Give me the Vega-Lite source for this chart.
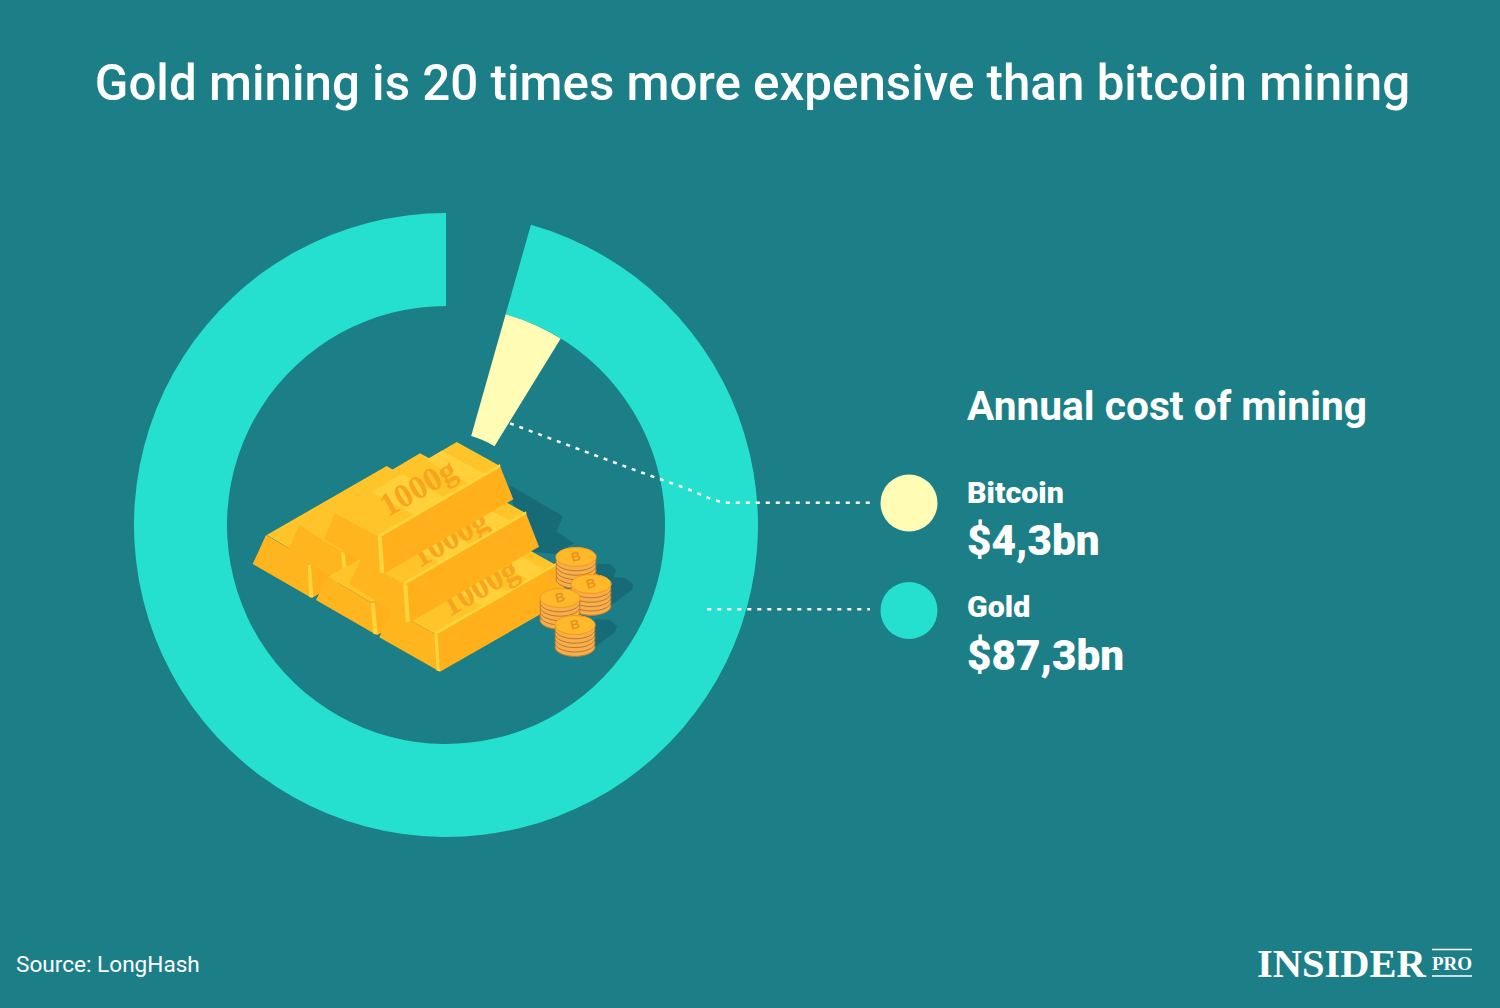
{
  "$schema": "https://vega.github.io/schema/vega-lite/v6.json",
  "description": "Annual cost of gold mining vs bitcoin mining",
  "width": 1500,
  "height": 1008,
  "autosize": {"type": "fit", "contains": "padding"},
  "padding": 0,
  "background": "#1c7f87",
  "config": {"view": {"stroke": null}, "text": {"font": "Roboto", "color": "white", "align": "left", "baseline": "alphabetic"}},
  "encoding": {
    "x": {"field": "x", "type": "quantitative", "axis": null, "scale": {"domain": [0, 1500], "nice": false, "zero": false}},
    "y": {"field": "y", "type": "quantitative", "axis": null, "scale": {"domain": [1008, 0], "nice": false, "zero": false}}
  },
  "datasets": {
    "shadows": [
      {"poly":"s1","part":"shadow","i":0,"x":509.3,"y":485},{"poly":"s1","part":"shadow","i":1,"x":562.7,"y":516},{"poly":"s1","part":"shadow","i":2,"x":556.7,"y":531.7},{"poly":"s1","part":"shadow","i":3,"x":574.3,"y":543.3},{"poly":"s1","part":"shadow","i":4,"x":556,"y":554},{"poly":"s1","part":"shadow","i":5,"x":533,"y":551.7},{"poly":"s1","part":"shadow","i":6,"x":513,"y":504},
      {"poly":"s2","part":"shadow","i":0,"x":595,"y":564},{"poly":"s2","part":"shadow","i":1,"x":610,"y":564},{"poly":"s2","part":"shadow","i":2,"x":616,"y":570},{"poly":"s2","part":"shadow","i":3,"x":613,"y":578},{"poly":"s2","part":"shadow","i":4,"x":600,"y":585},
      {"poly":"s3","part":"shadow","i":0,"x":611,"y":577},{"poly":"s3","part":"shadow","i":1,"x":625,"y":578},{"poly":"s3","part":"shadow","i":2,"x":633,"y":584},{"poly":"s3","part":"shadow","i":3,"x":632,"y":590},{"poly":"s3","part":"shadow","i":4,"x":610,"y":606},
      {"poly":"s4","part":"shadow","i":0,"x":595,"y":619},{"poly":"s4","part":"shadow","i":1,"x":610,"y":620},{"poly":"s4","part":"shadow","i":2,"x":617,"y":626},{"poly":"s4","part":"shadow","i":3,"x":615,"y":632},{"poly":"s4","part":"shadow","i":4,"x":595,"y":647}
    ],
    "barsBack": [
      {"poly":"A-top","part":"top","i":0,"x":266.7,"y":535},{"poly":"A-top","part":"top","i":1,"x":386.7,"y":466},{"poly":"A-top","part":"top","i":2,"x":430,"y":491.7},{"poly":"A-top","part":"top","i":3,"x":308.3,"y":560},
      {"poly":"A-left","part":"left","i":0,"x":266,"y":535},{"poly":"A-left","part":"left","i":1,"x":252.7,"y":564},{"poly":"A-left","part":"left","i":2,"x":311.7,"y":598},{"poly":"A-left","part":"left","i":3,"x":308.3,"y":560},
      {"poly":"A-right","part":"right","i":0,"x":308.3,"y":560},{"poly":"A-right","part":"right","i":1,"x":430,"y":491.7},{"poly":"A-right","part":"right","i":2,"x":440,"y":526.7},{"poly":"A-right","part":"right","i":3,"x":311.7,"y":598},
      {"poly":"A-edge","part":"edge","i":0,"x":307.7,"y":565},{"poly":"A-edge","part":"edge","i":1,"x":311,"y":564.3},{"poly":"A-edge","part":"edge","i":2,"x":313.3,"y":597.3},{"poly":"A-edge","part":"edge","i":3,"x":309.3,"y":597.3},
      {"poly":"B-top","part":"top","i":0,"x":299.3,"y":525},{"poly":"B-top","part":"top","i":1,"x":420,"y":453.3},{"poly":"B-top","part":"top","i":2,"x":456.7,"y":473.3},{"poly":"B-top","part":"top","i":3,"x":341.7,"y":551.7},
      {"poly":"B-left","part":"left","i":0,"x":299.3,"y":525},{"poly":"B-left","part":"left","i":1,"x":287.3,"y":551.7},{"poly":"B-left","part":"left","i":2,"x":346.7,"y":585},{"poly":"B-left","part":"left","i":3,"x":341.7,"y":551.7},
      {"poly":"B-right","part":"right","i":0,"x":341.7,"y":551.7},{"poly":"B-right","part":"right","i":1,"x":456.7,"y":473.3},{"poly":"B-right","part":"right","i":2,"x":480,"y":520},{"poly":"B-right","part":"right","i":3,"x":346.7,"y":585},
      {"poly":"B-edge","part":"edge","i":0,"x":341,"y":551.7},{"poly":"B-edge","part":"edge","i":1,"x":344.7,"y":552.7},{"poly":"B-edge","part":"edge","i":2,"x":348.3,"y":585},{"poly":"B-edge","part":"edge","i":3,"x":344,"y":585},
      {"poly":"D-top","part":"top","i":0,"x":327.3,"y":576.7},{"poly":"D-top","part":"top","i":1,"x":450,"y":510},{"poly":"D-top","part":"top","i":2,"x":500,"y":540},{"poly":"D-top","part":"top","i":3,"x":371.7,"y":602.7},
      {"poly":"D-left","part":"left","i":0,"x":327.3,"y":576.7},{"poly":"D-left","part":"left","i":1,"x":316,"y":600},{"poly":"D-left","part":"left","i":2,"x":376.7,"y":635},{"poly":"D-left","part":"left","i":3,"x":371.7,"y":602.7},
      {"poly":"D-right","part":"right","i":0,"x":371.7,"y":602.7},{"poly":"D-right","part":"right","i":1,"x":440,"y":565},{"poly":"D-right","part":"right","i":2,"x":460,"y":600},{"poly":"D-right","part":"right","i":3,"x":376.7,"y":635},
      {"poly":"D-edge","part":"edge","i":0,"x":371,"y":602.7},{"poly":"D-edge","part":"edge","i":1,"x":374.7,"y":603.3},{"poly":"D-edge","part":"edge","i":2,"x":377.7,"y":634.3},{"poly":"D-edge","part":"edge","i":3,"x":373.3,"y":634},
      {"poly":"E-top","part":"top","i":0,"x":391.7,"y":610},{"poly":"E-top","part":"top","i":1,"x":512.7,"y":541},{"poly":"E-top","part":"top","i":2,"x":556,"y":565},{"poly":"E-top","part":"top","i":3,"x":435,"y":634},
      {"poly":"E-s1","part":"stripe","i":0,"x":440,"y":582},{"poly":"E-s1","part":"stripe","i":1,"x":464.3,"y":568.6},{"poly":"E-s1","part":"stripe","i":2,"x":507.6,"y":592.6},{"poly":"E-s1","part":"stripe","i":3,"x":483.4,"y":606.4},
      {"poly":"E-s2","part":"stripe","i":0,"x":486,"y":556},{"poly":"E-s2","part":"stripe","i":1,"x":503,"y":546.5},{"poly":"E-s2","part":"stripe","i":2,"x":546.3,"y":570.5},{"poly":"E-s2","part":"stripe","i":3,"x":529.4,"y":580},
      {"poly":"E-left","part":"left","i":0,"x":391.7,"y":610},{"poly":"E-left","part":"left","i":1,"x":379.3,"y":637.3},{"poly":"E-left","part":"left","i":2,"x":440,"y":671.7},{"poly":"E-left","part":"left","i":3,"x":435,"y":634},
      {"poly":"E-right","part":"right","i":0,"x":435,"y":634},{"poly":"E-right","part":"right","i":1,"x":556,"y":565},{"poly":"E-right","part":"right","i":2,"x":568.3,"y":598.3},{"poly":"E-right","part":"right","i":3,"x":440,"y":671.7},
      {"poly":"E-rim","part":"edge","i":0,"x":435,"y":632},{"poly":"E-rim","part":"edge","i":1,"x":556,"y":563},{"poly":"E-rim","part":"edge","i":2,"x":556.5,"y":565.5},{"poly":"E-rim","part":"edge","i":3,"x":435.5,"y":635},
      {"poly":"E-edge","part":"edge","i":0,"x":434.3,"y":634},{"poly":"E-edge","part":"edge","i":1,"x":437.7,"y":634.7},{"poly":"E-edge","part":"edge","i":2,"x":440,"y":671.3},{"poly":"E-edge","part":"edge","i":3,"x":436.7,"y":670.7}
    ],
    "barsMid": [
      {"poly":"F-top","part":"top","i":0,"x":360.7,"y":560},{"poly":"F-top","part":"top","i":1,"x":482.7,"y":489.3},{"poly":"F-top","part":"top","i":2,"x":526,"y":513.3},{"poly":"F-top","part":"top","i":3,"x":404,"y":584},
      {"poly":"F-s1","part":"stripe","i":0,"x":397.3,"y":538.8},{"poly":"F-s1","part":"stripe","i":1,"x":427.8,"y":521},{"poly":"F-s1","part":"stripe","i":2,"x":471,"y":545},{"poly":"F-s1","part":"stripe","i":3,"x":440.6,"y":562.8},
      {"poly":"F-s2","part":"stripe","i":0,"x":448.5,"y":509},{"poly":"F-s2","part":"stripe","i":1,"x":468,"y":497.8},{"poly":"F-s2","part":"stripe","i":2,"x":511.4,"y":521.8},{"poly":"F-s2","part":"stripe","i":3,"x":491.8,"y":533}
    ],
    "barsMidSides": [
      {"poly":"F-left","part":"left","i":0,"x":360.7,"y":560},{"poly":"F-left","part":"left","i":1,"x":349.3,"y":584},{"poly":"F-left","part":"left","i":2,"x":410,"y":622.3},{"poly":"F-left","part":"left","i":3,"x":404,"y":584},
      {"poly":"F-right","part":"right","i":0,"x":404,"y":584},{"poly":"F-right","part":"right","i":1,"x":526,"y":513.3},{"poly":"F-right","part":"right","i":2,"x":539,"y":546.7},{"poly":"F-right","part":"right","i":3,"x":410,"y":622.3},
      {"poly":"F-rim","part":"edge","i":0,"x":404,"y":582},{"poly":"F-rim","part":"edge","i":1,"x":526,"y":511.3},{"poly":"F-rim","part":"edge","i":2,"x":526.5,"y":514},{"poly":"F-rim","part":"edge","i":3,"x":404.5,"y":585},
      {"poly":"F-edge","part":"edge","i":0,"x":403.3,"y":584},{"poly":"F-edge","part":"edge","i":1,"x":407.3,"y":584.7},{"poly":"F-edge","part":"edge","i":2,"x":410,"y":621.7},{"poly":"F-edge","part":"edge","i":3,"x":405.7,"y":621.7}
    ],
    "barsTop": [
      {"poly":"C-top","part":"top","i":0,"x":456.7,"y":442},{"poly":"C-top","part":"top","i":1,"x":500,"y":466},{"poly":"C-top","part":"top","i":2,"x":378.3,"y":536.7},{"poly":"C-top","part":"top","i":3,"x":335,"y":513.3},
      {"poly":"C-s1","part":"stripe","i":0,"x":371.5,"y":492},{"poly":"C-s1","part":"stripe","i":1,"x":402,"y":474},{"poly":"C-s1","part":"stripe","i":2,"x":445.3,"y":497.7},{"poly":"C-s1","part":"stripe","i":3,"x":414.8,"y":515.3},
      {"poly":"C-s2","part":"stripe","i":0,"x":426.3,"y":460},{"poly":"C-s2","part":"stripe","i":1,"x":442,"y":450.7},{"poly":"C-s2","part":"stripe","i":2,"x":485.3,"y":474.3},{"poly":"C-s2","part":"stripe","i":3,"x":469.7,"y":483.7},
      {"poly":"C-left","part":"left","i":0,"x":335,"y":513.3},{"poly":"C-left","part":"left","i":1,"x":324,"y":539.3},{"poly":"C-left","part":"left","i":2,"x":383.3,"y":574},{"poly":"C-left","part":"left","i":3,"x":378.3,"y":536.7},
      {"poly":"C-right","part":"right","i":0,"x":378.3,"y":536.7},{"poly":"C-right","part":"right","i":1,"x":500,"y":466},{"poly":"C-right","part":"right","i":2,"x":513.3,"y":499.3},{"poly":"C-right","part":"right","i":3,"x":383.3,"y":574},
      {"poly":"C-rim","part":"edge","i":0,"x":378.3,"y":534.7},{"poly":"C-rim","part":"edge","i":1,"x":500,"y":464},{"poly":"C-rim","part":"edge","i":2,"x":500.5,"y":467},{"poly":"C-rim","part":"edge","i":3,"x":379,"y":538},
      {"poly":"C-edge","part":"edge","i":0,"x":377.7,"y":536.7},{"poly":"C-edge","part":"edge","i":1,"x":381.7,"y":537.3},{"poly":"C-edge","part":"edge","i":2,"x":384.3,"y":573.3},{"poly":"C-edge","part":"edge","i":3,"x":380,"y":572.7}
    ],
    "coins": [
      {"kind":"rim","x":576,"y":579},{"kind":"rim","x":576,"y":574.6},{"kind":"rim","x":576,"y":570.2},{"kind":"rim","x":576,"y":565.8},{"kind":"rim","x":576,"y":561.4},{"kind":"coin","x":576,"y":557},{"kind":"inner","x":576,"y":557},
      {"kind":"rim","x":591,"y":606},{"kind":"rim","x":591,"y":601.6},{"kind":"rim","x":591,"y":597.2},{"kind":"rim","x":591,"y":592.8},{"kind":"rim","x":591,"y":588.4},{"kind":"coin","x":591,"y":584},{"kind":"inner","x":591,"y":584},
      {"kind":"rim","x":560,"y":620},{"kind":"rim","x":560,"y":615.6},{"kind":"rim","x":560,"y":611.2},{"kind":"rim","x":560,"y":606.8},{"kind":"rim","x":560,"y":602.4},{"kind":"coin","x":560,"y":598},{"kind":"inner","x":560,"y":598},
      {"kind":"rim","x":575,"y":647},{"kind":"rim","x":575,"y":642.6},{"kind":"rim","x":575,"y":638.2},{"kind":"rim","x":575,"y":633.8},{"kind":"rim","x":575,"y":629.4},{"kind":"coin","x":575,"y":625},{"kind":"inner","x":575,"y":625}
    ]
  },
  "layer": [
    {
      "data": {"values": [
        {"name": "Gold", "x": 446, "y": 525, "start": 15.8, "end": 360, "inner": 219, "outer": 312},
        {"name": "Bitcoin", "x": 446, "y": 525, "start": 15.8, "end": 31.6, "inner": 92.5, "outer": 219}
      ]},
      "mark": {"type": "arc"},
      "encoding": {
        "theta": {"field": "start", "type": "quantitative", "scale": {"domain": [0, 360], "range": [0, 6.283185]}},
        "theta2": {"field": "end"},
        "radius": {"field": "outer", "type": "quantitative", "scale": {"type": "linear", "domain": [0, 312], "range": [0, 312]}},
        "radius2": {"field": "inner"},
        "fill": {"field": "name", "type": "nominal", "legend": null, "scale": {
          "domain": ["Bitcoin", "Gold", "shadow", "top", "left", "right", "edge", "stripe", "rim", "coin", "inner"],
          "range": ["#fffcb6", "#25e0cf", "#176b76", "#ffc42a", "#ffb51e", "#ffb01a", "#ffd43d", "#ffd03a", "#f8ae4a", "#ffc62e", "#ffb92a"]
        }}
      }
    },
    {
      "data": {"name": "shadows"},
      "mark": {"type": "line", "strokeWidth": 0, "interpolate": "linear-closed"},
      "encoding": {"detail": {"field": "poly"}, "order": {"field": "i"}, "fill": {"field": "part", "type": "nominal", "legend": null}}
    },
    {
      "data": {"name": "barsBack"},
      "mark": {"type": "line", "strokeWidth": 0, "interpolate": "linear-closed"},
      "encoding": {"detail": {"field": "poly"}, "order": {"field": "i"}, "fill": {"field": "part", "type": "nominal", "legend": null}}
    },
    {
      "data": {"values": [{"x": 480, "y": 588, "label": "1000g"}]},
      "mark": {"type": "text", "font": "Liberation Serif", "fontWeight": "bold", "fontSize": 33, "angle": -30, "align": "center", "baseline": "middle", "color": "#f7a51f"},
      "encoding": {"text": {"field": "label"}}
    },
    {
      "data": {"name": "barsMid"},
      "mark": {"type": "line", "strokeWidth": 0, "interpolate": "linear-closed"},
      "encoding": {"detail": {"field": "poly"}, "order": {"field": "i"}, "fill": {"field": "part", "type": "nominal", "legend": null}}
    },
    {
      "data": {"values": [{"x": 450, "y": 539, "label": "1000g"}]},
      "mark": {"type": "text", "font": "Liberation Serif", "fontWeight": "bold", "fontSize": 33, "angle": -30, "align": "center", "baseline": "middle", "color": "#f7a51f"},
      "encoding": {"text": {"field": "label"}}
    },
    {
      "data": {"name": "barsMidSides"},
      "mark": {"type": "line", "strokeWidth": 0, "interpolate": "linear-closed"},
      "encoding": {"detail": {"field": "poly"}, "order": {"field": "i"}, "fill": {"field": "part", "type": "nominal", "legend": null}}
    },
    {
      "data": {"name": "barsTop"},
      "mark": {"type": "line", "strokeWidth": 0, "interpolate": "linear-closed"},
      "encoding": {"detail": {"field": "poly"}, "order": {"field": "i"}, "fill": {"field": "part", "type": "nominal", "legend": null}}
    },
    {
      "data": {"values": [{"x": 418.3, "y": 488.3, "label": "1000g"}]},
      "mark": {"type": "text", "font": "Liberation Serif", "fontWeight": "bold", "fontSize": 33, "angle": -30, "align": "center", "baseline": "middle", "color": "#f7a51f"},
      "encoding": {"text": {"field": "label"}}
    },
    {
      "data": {"name": "coins"},
      "mark": {"type": "point", "filled": true, "strokeWidth": 1, "opacity": 1, "shape": "M-1,0A1,0.47,0,1,1,1,0A1,0.47,0,1,1,-1,0Z"},
      "encoding": {
        "size": {"field": "kind", "type": "ordinal", "legend": null, "scale": {"domain": ["rim", "coin", "inner"], "range": [1600, 1600, 900]}},
        "fill": {"field": "kind", "type": "nominal", "legend": null},
        "stroke": {"field": "kind", "type": "nominal", "legend": null, "scale": {"domain": ["rim", "coin", "inner"], "range": ["#bd7a2e", "#f8a01f", "#f59a1f"]}}
      }
    },
    {
      "data": {"values": [{"x": 576, "y": 557, "label": "B"}, {"x": 591, "y": 584, "label": "B"}, {"x": 560, "y": 598, "label": "B"}, {"x": 575, "y": 625, "label": "B"}]},
      "mark": {"type": "text", "font": "Liberation Sans", "fontWeight": "bold", "fontSize": 13, "angle": -15, "align": "center", "baseline": "middle", "color": "#e8931c"},
      "encoding": {"text": {"field": "label"}}
    },
    {
      "data": {"values": [
        {"line": "Bitcoin", "i": 0, "x": 510, "y": 423.3},
        {"line": "Bitcoin", "i": 1, "x": 643, "y": 473},
        {"line": "Bitcoin", "i": 2, "x": 690, "y": 490},
        {"line": "Bitcoin", "i": 3, "x": 716.7, "y": 500.7},
        {"line": "Bitcoin", "i": 4, "x": 727.3, "y": 502.7},
        {"line": "Bitcoin", "i": 5, "x": 870, "y": 502.7},
        {"line": "Gold", "i": 0, "x": 707.3, "y": 609.3},
        {"line": "Gold", "i": 1, "x": 870, "y": 609.3}
      ]},
      "mark": {"type": "line", "color": "white", "strokeWidth": 2.5, "strokeDash": [4, 6], "interpolate": "monotone"},
      "encoding": {"detail": {"field": "line"}, "order": {"field": "i"}}
    },
    {
      "data": {"values": [{"name": "Bitcoin", "x": 909, "y": 503}, {"name": "Gold", "x": 909, "y": 610.5}]},
      "mark": {"type": "point", "shape": "circle", "filled": true, "opacity": 1, "size": 3249},
      "encoding": {"fill": {"field": "name", "type": "nominal", "legend": null}}
    },
    {
      "data": {"values": [{"x": 752.5, "y": 100, "label": "Gold mining is 20 times more expensive than bitcoin mining"}]},
      "mark": {"type": "text", "fontSize": 49.3, "fontWeight": 500, "align": "center"},
      "encoding": {"text": {"field": "label"}}
    },
    {
      "data": {"values": [{"x": 967, "y": 420, "label": "Annual cost of mining"}]},
      "mark": {"type": "text", "fontSize": 40.7, "fontWeight": "bold"},
      "encoding": {"text": {"field": "label"}}
    },
    {
      "data": {"values": [{"x": 967, "y": 503, "label": "Bitcoin"}, {"x": 967, "y": 617, "label": "Gold"}]},
      "mark": {"type": "text", "fontSize": 30.4, "fontWeight": 900},
      "encoding": {"text": {"field": "label"}}
    },
    {
      "data": {"values": [{"x": 967, "y": 555, "label": "$4,3bn"}, {"x": 967, "y": 670, "label": "$87,3bn"}]},
      "mark": {"type": "text", "fontSize": 42.3, "fontWeight": 900},
      "encoding": {"text": {"field": "label"}}
    },
    {
      "data": {"values": [{"x": 16, "y": 972, "label": "Source: LongHash"}]},
      "mark": {"type": "text", "fontSize": 22.6},
      "encoding": {"text": {"field": "label"}}
    },
    {
      "data": {"values": [{"x": 1257, "y": 977, "label": "INSIDER"}]},
      "mark": {"type": "text", "font": "Liberation Serif", "fontWeight": "bold", "fontSize": 40.5},
      "encoding": {"text": {"field": "label"}}
    },
    {
      "data": {"values": [{"x": 1432, "y": 970, "label": "PRO"}]},
      "mark": {"type": "text", "font": "Liberation Serif", "fontWeight": "bold", "fontSize": 19},
      "encoding": {"text": {"field": "label"}}
    },
    {
      "data": {"values": [{"x": 1432, "x2": 1472, "y": 949.5}, {"x": 1432, "x2": 1472, "y": 976}]},
      "mark": {"type": "rule", "color": "white", "strokeWidth": 1.5},
      "encoding": {"x2": {"field": "x2"}}
    }
  ]
}
